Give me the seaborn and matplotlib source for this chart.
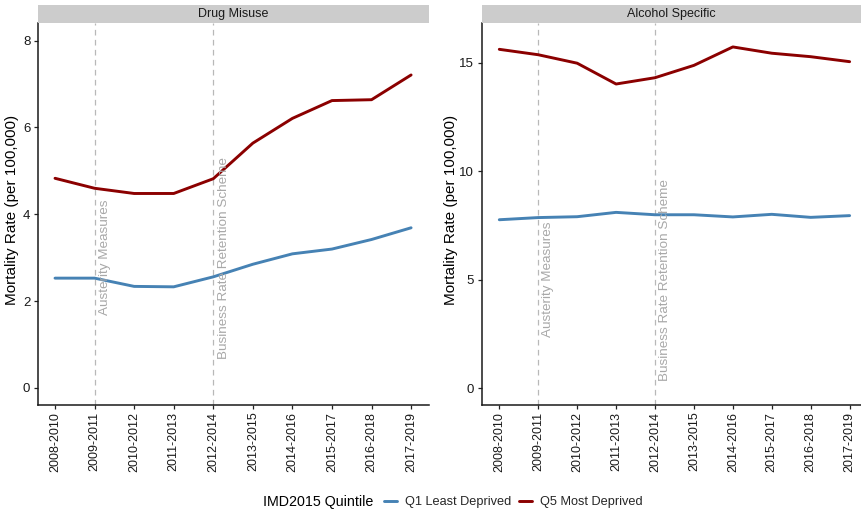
import numpy as np
import pandas as pd
import matplotlib
matplotlib.use("Agg")
import matplotlib.pyplot as plt
from matplotlib.patches import Rectangle
from matplotlib.lines import Line2D
import seaborn as sns

# Three-year rolling periods
periods = ["2008-2010", "2009-2011", "2010-2012", "2011-2013", "2012-2014",
           "2013-2015", "2014-2016", "2015-2017", "2016-2018", "2017-2019"]

# Mortality rate per 100,000 by IMD2015 quintile
drug_q1 = [2.53, 2.53, 2.34, 2.33, 2.56, 2.85, 3.09, 3.20, 3.42, 3.69]
drug_q5 = [4.83, 4.60, 4.48, 4.48, 4.82, 5.64, 6.21, 6.62, 6.64, 7.21]
alcohol_q1 = [7.76, 7.86, 7.90, 8.10, 7.99, 7.99, 7.89, 8.01, 7.87, 7.95]
alcohol_q5 = [15.62, 15.37, 14.98, 14.02, 14.31, 14.88, 15.73, 15.44, 15.28, 15.05]

quintiles = ["Q1 Least Deprived", "Q5 Most Deprived"]
panels = ["Drug Misuse", "Alcohol Specific"]

# Policy events marked on both panels
event_periods = ["2009-2011", "2012-2014"]
event_labels = ["Austerity Measures", "Business Rate Retention Scheme"]
event_label_y = {"Drug Misuse": 3, "Alcohol Specific": 5}

rows = []
for panel, (q1, q5) in zip(panels, [(drug_q1, drug_q5), (alcohol_q1, alcohol_q5)]):
    for p, a, b in zip(periods, q1, q5):
        rows.append((panel, p, quintiles[0], a))
        rows.append((panel, p, quintiles[1], b))
df = pd.DataFrame(rows, columns=["cause", "period", "quintile", "rate"])

palette = {quintiles[0]: "#4682B4", quintiles[1]: "#8B0000"}

sns.set_theme(style="ticks")
plt.rcParams["font.family"] = ["Liberation Sans", "DejaVu Sans"]

W, H = 862, 513
fig = plt.figure(figsize=(W / 100, H / 100), dpi=100)


def fig_box(x0, y0, x1, y1):
    """Pixel box (top-left origin) to figure fraction rect."""
    return [x0 / W, 1 - y1 / H, (x1 - x0) / W, (y1 - y0) / H]


layout = {
    "Drug Misuse": dict(box=(38, 23.3, 429.3, 405), xlim=(-0.43, 9.46),
                        ylim=(-0.392, 8.40), yticks=[0, 2, 4, 6, 8], ylab_x=12.5),
    "Alcohol Specific": dict(box=(481.7, 23.3, 861.7, 405), xlim=(-0.452, 9.31),
                             ylim=(-0.784, 16.82), yticks=[0, 5, 10, 15], ylab_x=451),
}

grey_txt = "#A8A8A8"

for panel in panels:
    cfg = layout[panel]
    x0, y0, x1, y1 = cfg["box"]
    ax = fig.add_axes(fig_box(x0, y0, x1, y1))
    sub = df[df["cause"] == panel]
    sns.lineplot(data=sub, x="period", y="rate", hue="quintile", hue_order=quintiles,
                 palette=palette, linewidth=2.1, ax=ax, legend=False, sort=False)

    for ep, lab in zip(event_periods, event_labels):
        xi = periods.index(ep)
        ax.axvline(xi, color="#B8B8B8", linewidth=0.9, dashes=(4.5, 3.5), zorder=0)
        ax.text(xi + 0.26, event_label_y[panel], lab, rotation=90, ha="center",
                va="center", color=grey_txt, fontsize=9.7)

    ax.set_xlim(*cfg["xlim"])
    ax.set_ylim(*cfg["ylim"])
    ax.set_yticks(cfg["yticks"])
    ax.set_xticks(range(len(periods)))
    ax.set_xticklabels(periods, rotation=90, fontsize=9, color="#1a1a1a")
    ax.tick_params(axis="y", labelsize=9.5, labelcolor="#1a1a1a", pad=2.5)
    ax.tick_params(axis="x", pad=1.8)
    ax.tick_params(axis="both", direction="out", length=3, width=0.9, color="#222222")
    ax.set_xlabel("")
    ax.set_ylabel("")
    for side in ["top", "right"]:
        ax.spines[side].set_visible(False)
    for side in ["left", "bottom"]:
        ax.spines[side].set_linewidth(1.1)
        ax.spines[side].set_color("#1a1a1a")
    ax.set_facecolor("white")

    # facet strip
    sx = fig_box(x0, 5, x1, 23.3)
    fig.add_artist(Rectangle((sx[0], sx[1]), sx[2], sx[3], transform=fig.transFigure,
                             facecolor="#CCCCCC", edgecolor="none"))
    fig.text(sx[0] + sx[2] / 2, sx[1] + sx[3] / 2, panel, ha="center", va="center",
             fontsize=9, color="#1a1a1a")

    fig.text(cfg["ylab_x"] / W, 1 - 210 / H, "Mortality Rate (per 100,000)", rotation=90,
             ha="center", va="center", fontsize=11, color="black")

# legend along the bottom
fig.text(262.7 / W, 1 - 502 / H, "IMD2015 Quintile", ha="left", va="center",
         fontsize=10.3, color="black")
handles = [Line2D([], [], color=palette[q], linewidth=2.1) for q in quintiles]
fig.legend(handles, quintiles, loc="center left", bbox_to_anchor=(384 / W, 1 - 502 / H),
           ncol=2, frameon=False, fontsize=9.2, handlelength=1.0, handletextpad=0.62,
           columnspacing=0.66, borderaxespad=0, borderpad=0)

fig.savefig("out.png", dpi=100, facecolor="white")
